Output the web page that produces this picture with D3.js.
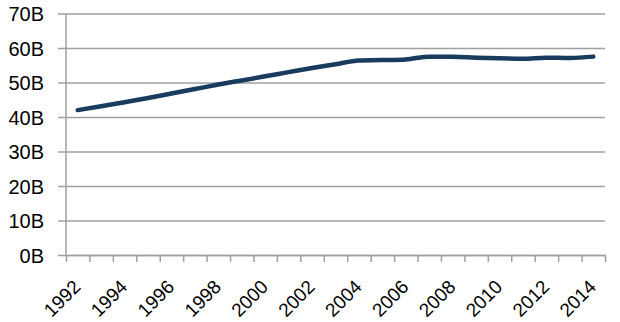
<!DOCTYPE html>
<html>
<head>
<meta charset="utf-8">
<script src="https://cdn.jsdelivr.net/npm/d3@7"></script>
<style>
  body { margin: 0; background: #fff; }
  text { font-family: "Liberation Sans", Arial, sans-serif; fill: #000; }
</style>
</head>
<body>
<div id="chart"></div>
<script>
// data (billions)
const years = d3.range(1992, 2015);
const values = [42.0, 43.1, 44.3, 45.5, 46.8, 48.1, 49.4, 50.6, 51.8, 53.0, 54.2, 55.3,
                56.4, 56.5, 56.7, 57.5, 57.5, 57.2, 57.0, 56.9, 57.2, 57.1, 57.5];
const yTicks = [0, 10, 20, 30, 40, 50, 60, 70];
const labelYears = years.filter(y => y % 2 === 0);

const width = 620, height = 322;
const margin = {top: 13.5, right: 15, bottom: 67, left: 66};
const innerW = width - margin.left - margin.right,
      innerH = height - margin.top - margin.bottom;

const svg = d3.select("#chart")
    .append("svg")
    .attr("width", width)
    .attr("height", height)
    .append("g")
    .attr("transform", `translate(${margin.left},${margin.top})`);

const xScale = d3.scaleBand().domain(years).range([0, innerW]).padding(0);
const xEdge = d3.scaleLinear().domain([0, years.length]).range([0, innerW]);
const yScale = d3.scaleLinear().domain([0, 70]).range([innerH, 0]);
const xc = d => xScale(d) + xScale.bandwidth() / 2;

// gridlines + y labels
const yAxis = d3.axisLeft(yScale)
    .tickValues(yTicks)
    .tickSize(-innerW)
    .tickPadding(22)
    .tickFormat(d => d + "B");
svg.append("g")
   .attr("class", "y-axis")
   .call(yAxis)
   .call(g => g.select(".domain").remove())
   .call(g => g.selectAll(".tick line")
       .attr("x1", -8)
       .attr("stroke", "#a0a0a0")
       .attr("stroke-width", 1.5))
   .call(g => g.selectAll(".tick text")
       .attr("font-size", 20)
       .attr("dy", "0.35em"));

// y axis line
svg.append("line")
   .attr("x1", 0).attr("x2", 0)
   .attr("y1", 0).attr("y2", innerH)
   .attr("stroke", "#a0a0a0")
   .attr("stroke-width", 1.5);

// x axis ticks between categories
const xAxis = d3.axisBottom(xEdge)
    .tickValues(d3.range(0, years.length + 1))
    .tickSize(7)
    .tickSizeOuter(0)
    .tickFormat("");
svg.append("g")
   .attr("class", "x-axis")
   .attr("transform", `translate(0,${innerH})`)
   .call(xAxis)
   .call(g => g.selectAll("path, line")
       .attr("stroke", "#a0a0a0")
       .attr("stroke-width", 1.5));

// rotated year labels
svg.append("g")
   .selectAll("text")
   .data(labelYears)
   .join("text")
   .attr("font-size", 19)
   .attr("text-anchor", "end")
   .attr("transform", d => `translate(${xc(d) + 4},${innerH + 33}) rotate(-45)`)
   .text(d => d);

// the line
const line = d3.line()
    .x((d, i) => xc(years[i]))
    .y(d => yScale(d))
    .curve(d3.curveMonotoneX);
svg.append("path")
   .datum(values)
   .attr("fill", "none")
   .attr("stroke", "#183b5e")
   .attr("stroke-width", 4.5)
   .attr("stroke-linecap", "round")
   .attr("stroke-linejoin", "round")
   .attr("d", line);
</script>
</body>
</html>
